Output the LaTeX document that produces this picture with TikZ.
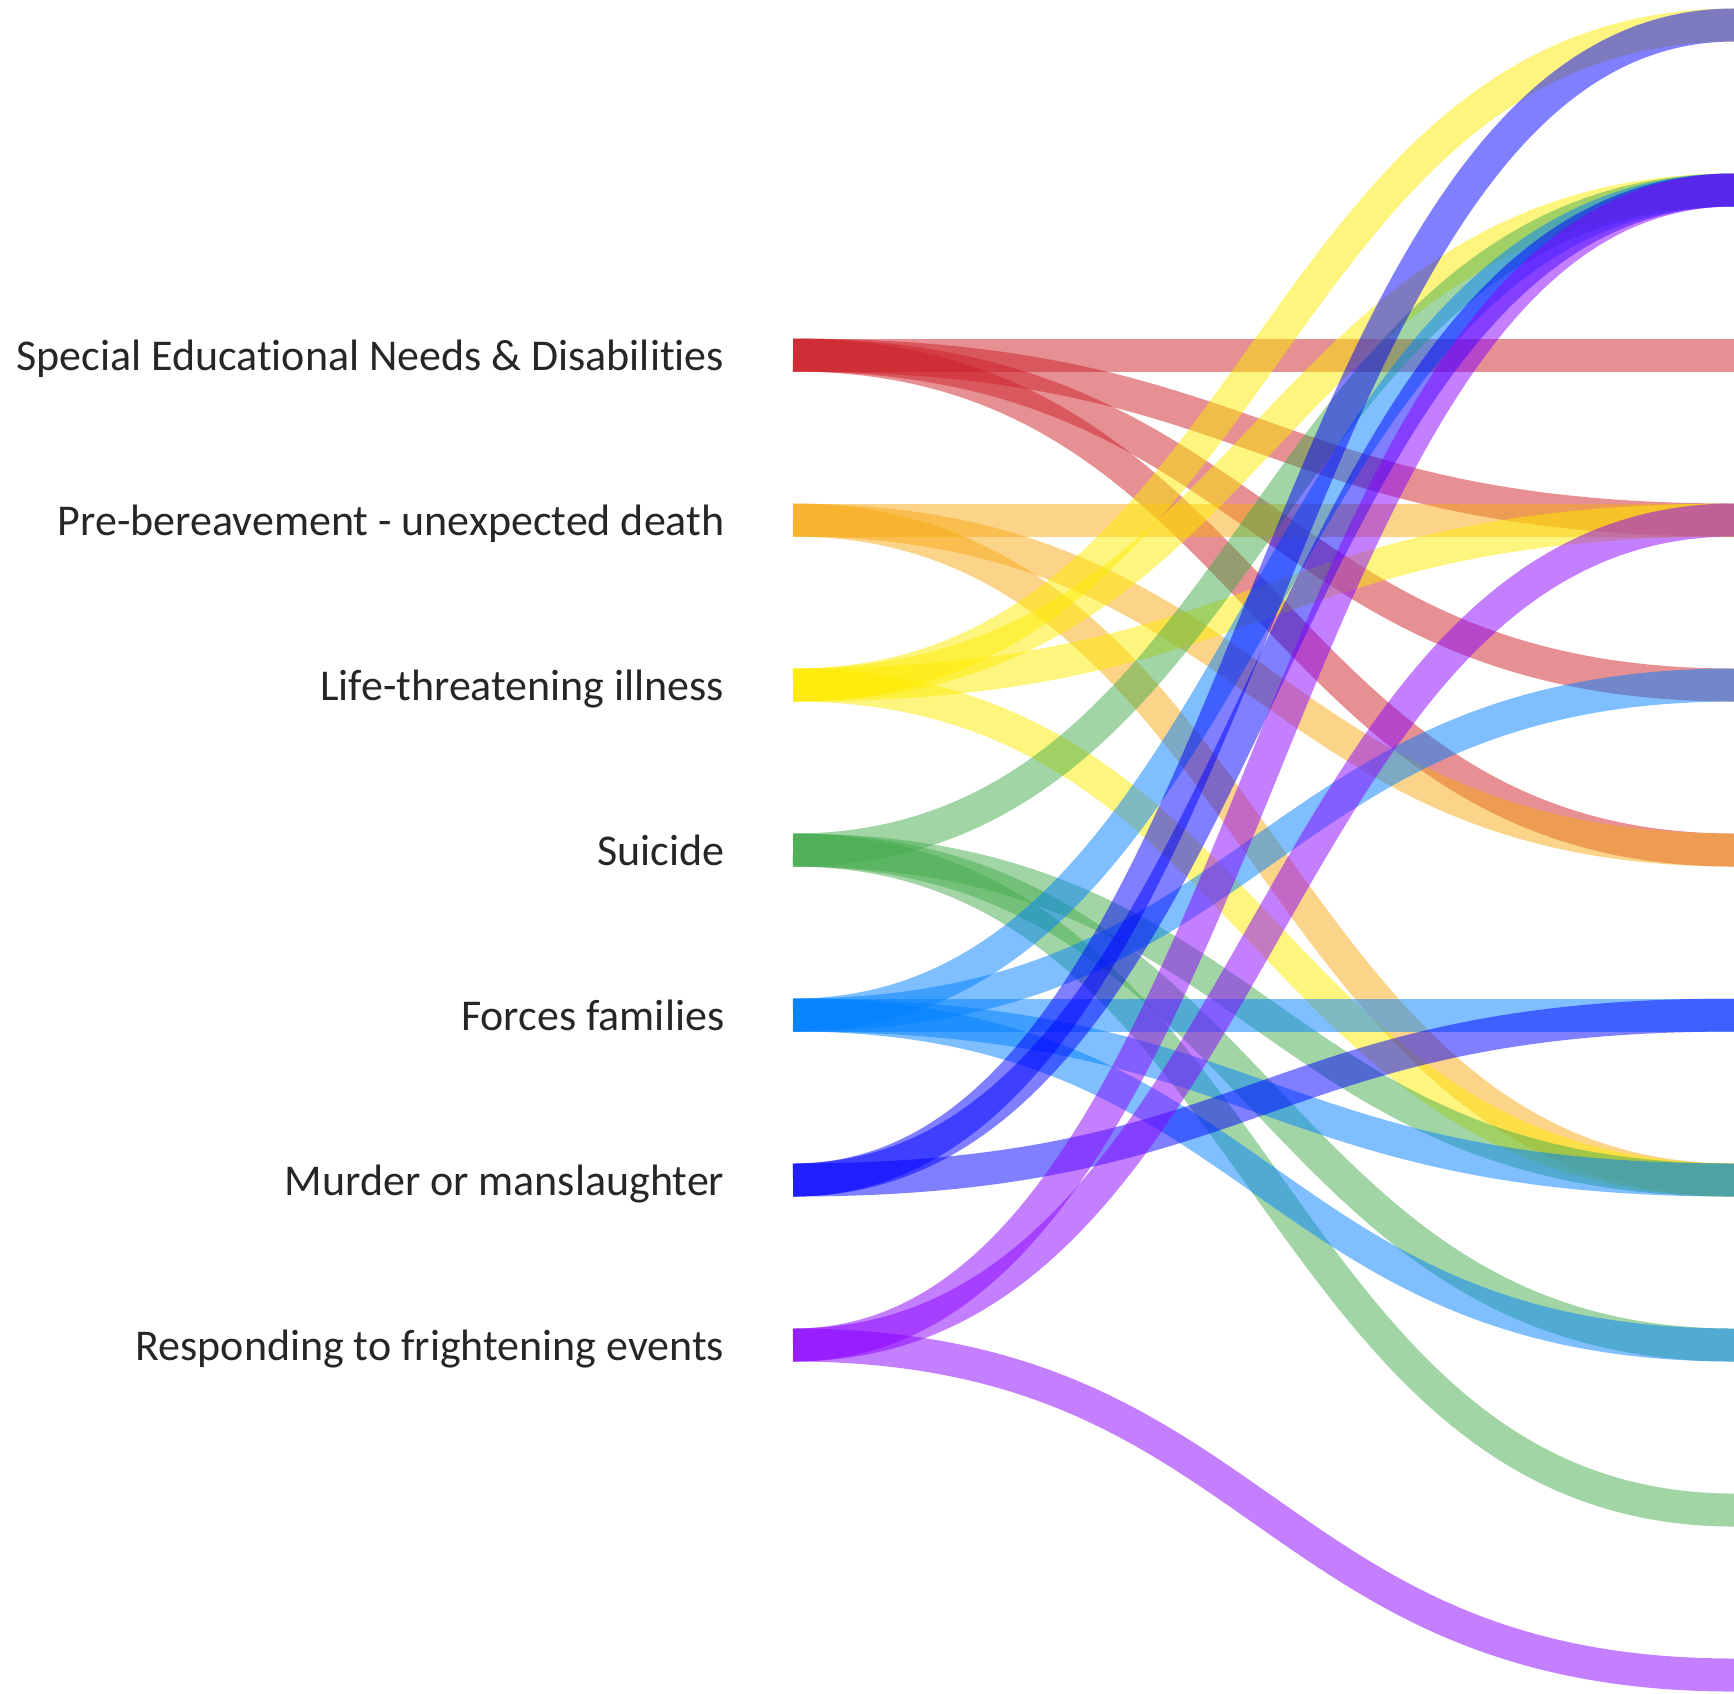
\documentclass[tikz,border=0pt]{standalone}
\usepackage{fontspec}
\setmainfont[Ligatures=NoCommon]{Carlito}
\usetikzlibrary{positioning}

\definecolor{sendred}{HTML}{CD2129}
\definecolor{preorange}{HTML}{F7A915}
\definecolor{lifeyellow}{HTML}{FEEB00}
\definecolor{suigreen}{HTML}{45AB4D}
\definecolor{forceblue}{HTML}{0080FF}
\definecolor{murderblue}{HTML}{0000FF}
\definecolor{fearpurple}{HTML}{8900FF}

\begin{document}
\begin{tikzpicture}[
x=0.01cm, y=-0.01cm,
flow/.style={draw opacity=0.5, line width=0.33cm,
  to path={.. controls +(470.5,0) and +(-470.5,0) .. (\tikztotarget)}},
lbl/.style={inner sep=0pt, text=black!85, text height=0.30cm, text depth=0pt,
  font=\fontsize{12.5}{15}\selectfont},
]
\useasboundingbox (0,0) rectangle (1734,1693);

% sources
\coordinate (s1) at (793,355);
\coordinate (s2) at (793,520);
\coordinate (s3) at (793,685);
\coordinate (s4) at (793,850);
\coordinate (s5) at (793,1015);
\coordinate (s6) at (793,1180);
\coordinate (s7) at (793,1345);

% targets
\foreach \k in {0,...,10}
  \coordinate (t\k) at (1734,25+165*\k);

\node[lbl, left=0.68cm of s1] (l1) {Special Educational Needs \& Disabilities};
\node[lbl, left=0.68cm of s2] (l2) {Pre-bereavement - unexpected death};
\node[lbl, left=0.68cm of s3] (l3) {Life-threatening illness};
\node[lbl, left=0.68cm of s4] (l4) {Suicide};
\node[lbl, left=0.68cm of s5] (l5) {Forces families};
\node[lbl, left=0.68cm of s6] (l6) {Murder or manslaughter};
\node[lbl, left=0.68cm of s7] (l7) {Responding to frightening events};

\path
(s1) edge[flow, sendred] (t2)
(s1) edge[flow, sendred] (t3)
(s1) edge[flow, sendred] (t4)
(s1) edge[flow, sendred] (t5)
(s2) edge[flow, preorange] (t3)
(s2) edge[flow, preorange] (t5)
(s2) edge[flow, preorange] (t7)
(s3) edge[flow, lifeyellow] (t0)
(s3) edge[flow, lifeyellow] (t1)
(s3) edge[flow, lifeyellow] (t3)
(s3) edge[flow, lifeyellow] (t7)
(s4) edge[flow, suigreen] (t1)
(s4) edge[flow, suigreen] (t7)
(s4) edge[flow, suigreen] (t8)
(s4) edge[flow, suigreen] (t9)
(s5) edge[flow, forceblue] (t1)
(s5) edge[flow, forceblue] (t4)
(s5) edge[flow, forceblue] (t6)
(s5) edge[flow, forceblue] (t7)
(s5) edge[flow, forceblue] (t8)
(s6) edge[flow, murderblue] (t0)
(s6) edge[flow, murderblue] (t1)
(s6) edge[flow, murderblue] (t6)
(s7) edge[flow, fearpurple] (t1)
(s7) edge[flow, fearpurple] (t3)
(s7) edge[flow, fearpurple] (t10)
;
\end{tikzpicture}
\end{document}
